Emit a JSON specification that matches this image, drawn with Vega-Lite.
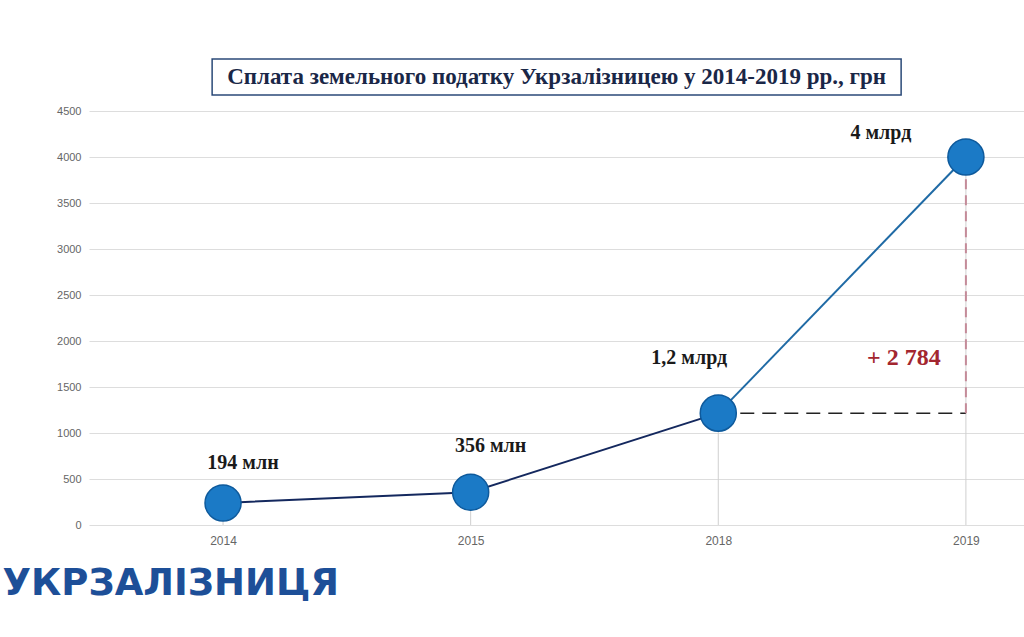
{
  "$schema": "https://vega.github.io/schema/vega-lite/v6.json",
  "padding": {"left": 2, "top": 58, "right": 0, "bottom": 30},
  "background": "#ffffff",
  "config": {"view": {"stroke": null}, "font": "Liberation Sans"},
  "title": {"text": "УКРЗАЛІЗНИЦЯ", "orient": "bottom", "anchor": "start", "frame": "bounds", "dx": -54, "offset": 20, "font": "DejaVu Sans", "fontSize": 37, "fontWeight": "bold", "color": "#1d4f98"},
  "datasets": {
    "points": [
      {"year": "2014", "value": 240, "label": "194 млн"},
      {"year": "2015", "value": 356, "label": "356 млн"},
      {"year": "2018", "value": 1216, "label": "1,2 млрд"},
      {"year": "2019", "value": 4000, "label": "4 млрд"}
    ],
    "segments": [
      {"year": "2014", "value": 240, "seg": "a"},
      {"year": "2015", "value": 356, "seg": "a"},
      {"year": "2018", "value": 1216, "seg": "a"},
      {"year": "2018", "value": 1216, "seg": "b"},
      {"year": "2019", "value": 4000, "seg": "b"}
    ],
    "diff": [
      {"from": "2018", "to": "2019", "low": 1216, "high": 4000, "label": "+ 2 784"}
    ],
    "heading": [
      {"text": "Сплата земельного податку Укрзалізницею у 2014-2019 рр., грн"}
    ]
  },
  "center": true,
  "bounds": "full",
  "spacing": 9,
  "vconcat": [
    {
      "width": 689,
      "height": 36,
      "view": {"stroke": "#2b4a78", "strokeWidth": 1.5, "fill": "#ffffff"},
      "data": {"name": "heading"},
      "mark": {"type": "text", "font": "Liberation Serif", "fontWeight": "bold", "fontSize": 23, "color": "#1a2747"},
      "encoding": {"text": {"field": "text"}}
    },
    {
      "width": 936,
      "height": 414,
      "encoding": {
        "x": {"field": "year", "type": "ordinal", "scale": {"type": "point", "domain": ["2014", "2015", "2018", "2019"], "padding": 0.39, "align": 0.694},
          "axis": {"title": null, "labelAngle": 0, "domain": false, "ticks": false, "grid": false, "labelColor": "#666666", "labelFontSize": 12, "labelPadding": 10}},
        "y": {"type": "quantitative", "scale": {"domain": [0, 4500], "nice": false},
          "axis": {"title": null, "format": "d", "values": [0, 500, 1000, 1500, 2000, 2500, 3000, 3500, 4000, 4500], "domain": false, "ticks": false, "gridColor": "#dddddd", "gridWidth": 1, "labelColor": "#666666", "labelFontSize": 11, "labelPadding": 8}}
      },
      "layer": [
        {
          "data": {"name": "points"},
          "mark": {"type": "rule", "color": "#cfcfcf", "strokeWidth": 1},
          "encoding": {"x": {"field": "year", "type": "ordinal"}, "y": {"field": "value", "type": "quantitative"}, "y2": {"datum": 0}}
        },
        {
          "data": {"name": "segments"},
          "mark": {"type": "line", "strokeWidth": 2},
          "encoding": {
            "x": {"field": "year", "type": "ordinal"},
            "y": {"field": "value", "type": "quantitative"},
            "color": {"field": "seg", "type": "nominal", "scale": {"domain": ["a", "b"], "range": ["#14285e", "#1f6aa5"]}, "legend": null}
          }
        },
        {
          "data": {"name": "diff"},
          "mark": {"type": "rule", "color": "#222222", "strokeWidth": 1.5, "strokeDash": [14, 8]},
          "encoding": {"x": {"field": "from", "type": "ordinal"}, "x2": {"field": "to"}, "y": {"field": "low", "type": "quantitative"}}
        },
        {
          "data": {"name": "diff"},
          "mark": {"type": "rule", "color": "#c48b99", "strokeWidth": 2, "strokeDash": [10, 6]},
          "encoding": {"x": {"field": "to", "type": "ordinal"}, "y": {"field": "low", "type": "quantitative"}, "y2": {"field": "high"}}
        },
        {
          "data": {"name": "points"},
          "mark": {"type": "point", "shape": "circle", "filled": true, "size": 1300, "color": "#1b7ac6", "stroke": "#0e5a9c", "strokeWidth": 1.5, "opacity": 1},
          "encoding": {"x": {"field": "year", "type": "ordinal"}, "y": {"field": "value", "type": "quantitative"}}
        },
        {
          "data": {"name": "points"},
          "transform": [{"filter": "datum.year == '2014'"}],
          "mark": {"type": "text", "font": "Liberation Serif", "fontWeight": "bold", "fontSize": 20, "color": "#1a1a1a", "dx": 20, "dy": -40},
          "encoding": {"x": {"field": "year", "type": "ordinal"}, "y": {"field": "value", "type": "quantitative"}, "text": {"field": "label"}}
        },
        {
          "data": {"name": "points"},
          "transform": [{"filter": "datum.year == '2015'"}],
          "mark": {"type": "text", "font": "Liberation Serif", "fontWeight": "bold", "fontSize": 20, "color": "#1a1a1a", "dx": 20, "dy": -46},
          "encoding": {"x": {"field": "year", "type": "ordinal"}, "y": {"field": "value", "type": "quantitative"}, "text": {"field": "label"}}
        },
        {
          "data": {"name": "points"},
          "transform": [{"filter": "datum.year == '2018'"}],
          "mark": {"type": "text", "font": "Liberation Serif", "fontWeight": "bold", "fontSize": 20, "color": "#1a1a1a", "dx": -29, "dy": -55},
          "encoding": {"x": {"field": "year", "type": "ordinal"}, "y": {"field": "value", "type": "quantitative"}, "text": {"field": "label"}}
        },
        {
          "data": {"name": "points"},
          "transform": [{"filter": "datum.year == '2019'"}],
          "mark": {"type": "text", "font": "Liberation Serif", "fontWeight": "bold", "fontSize": 20, "color": "#1a1a1a", "dx": -85, "dy": -24},
          "encoding": {"x": {"field": "year", "type": "ordinal"}, "y": {"field": "value", "type": "quantitative"}, "text": {"field": "label"}}
        },
        {
          "data": {"name": "diff"},
          "mark": {"type": "text", "font": "Liberation Serif", "fontWeight": "bold", "fontSize": 24, "color": "#a3262f", "dx": -62, "dy": -55},
          "encoding": {"x": {"field": "to", "type": "ordinal"}, "y": {"field": "low", "type": "quantitative"}, "text": {"field": "label"}}
        }
      ]
    }
  ]
}
